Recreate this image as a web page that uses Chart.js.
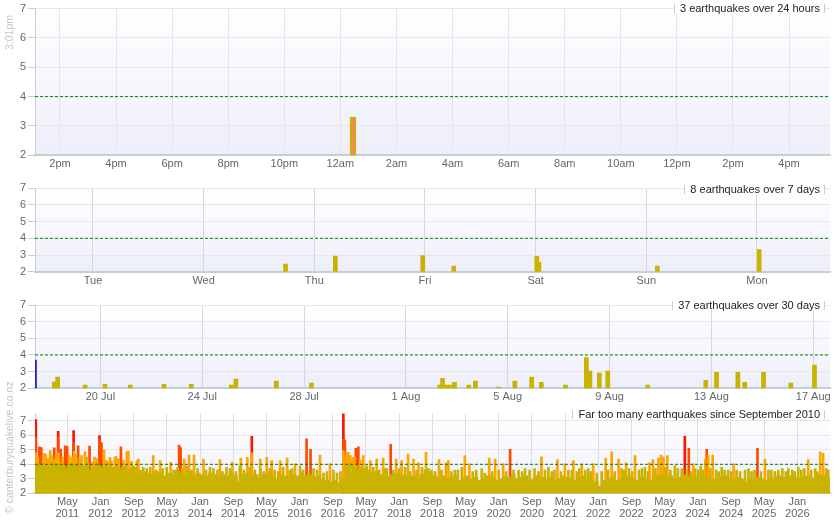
<!DOCTYPE html>
<html>
<head>
<meta charset="utf-8">
<script src="https://cdn.jsdelivr.net/npm/chart.js@4.4.0/dist/chart.umd.min.js"></script>
<style>
  body { margin: 0; background: #fff; font-family: "Liberation Sans", Arial, sans-serif; }
  #wrap { position: relative; width: 835px; height: 530px; overflow: hidden; }
  canvas { position: absolute; left: 0; }
  .title { position: absolute; right: 10px; height: 9px; line-height: 9px; padding: 0 4px 0 5px;
    background: #fff; color: #222; font-size: 11px; white-space: nowrap;
    border-left: 1px solid #ccc; border-right: 1px solid #ccc; }
  .side { position: absolute; left: 3px; color: #c4c4c4; font-size: 10.5px; line-height: 12px;
    white-space: nowrap; transform-origin: left top; transform: rotate(-90deg); }
</style>
</head>
<body>
<div id="wrap">
  <canvas id="day-chart" width="835" height="175" style="top:0"></canvas>
  <canvas id="week-chart" width="835" height="120" style="top:175px"></canvas>
  <canvas id="month-chart" width="835" height="110" style="top:295px"></canvas>
  <canvas id="all-chart" width="835" height="125" style="top:405px"></canvas>
  <div class="title" style="top:4px">3 earthquakes over 24 hours</div>
  <div class="title" style="top:185px">8 earthquakes over 7 days</div>
  <div class="title" style="top:301px">37 earthquakes over 30 days</div>
  <div class="title" style="top:410px">Far too many earthquakes since September 2010</div>
  <div class="side" style="top:50px">3:01pm</div>
  <div class="side" style="top:514px">© canterburyquakelive.co.nz</div>
</div>
<script>
// magnitude axis
var magTicks = [2, 3, 4, 5, 6, 7];
var alertMag = 4;

// last 24 hours (x = hours, 24 = midnight)
var dayHourTicks = [14, 16, 18, 20, 22, 24, 26, 28, 30, 32, 34, 36, 38, 40];
var dayHourLabels = ['2pm', '4pm', '6pm', '8pm', '10pm', '12am', '2am', '4am', '6am', '8am', '10am', '12pm', '2pm', '4pm'];
var dayQuakeHours = [24.45];
var dayQuakeMags = [3.3];

// last 7 days (x = day, 1 = Tue)
var weekDayTicks = [1, 2, 3, 4, 5, 6, 7];
var weekDayLabels = ['Tue', 'Wed', 'Thu', 'Fri', 'Sat', 'Sun', 'Mon'];
var weekQuakeDays = [2.74, 3.19, 3.98, 4.26, 5.01, 5.03, 6.10, 7.02];
var weekQuakeMags = [2.46, 2.94, 2.96, 2.33, 2.92, 2.58, 2.33, 3.33];

// last 30 days (x = day of July, August continues at 32)
var monthDayTicks = [20, 24, 28, 32, 36, 40, 44, 48];
var monthDayLabels = ['20 Jul', '24 Jul', '28 Jul', '1 Aug', '5 Aug', '9 Aug', '13 Aug', '17 Aug'];
var monthQuakeDays = [18.19, 18.32, 19.40, 20.18, 21.17, 22.50, 23.57, 25.14, 25.32, 26.91, 28.29, 33.33, 33.44, 33.62, 33.74,
  33.91, 34.47, 34.73, 35.64, 36.28, 36.94, 37.32, 38.27, 39.09, 39.23, 39.60, 39.93, 41.50, 43.78, 44.20, 45.04, 45.31, 46.05, 47.12, 48.05];
var monthQuakeMags = [2.38, 2.68, 2.20, 2.24, 2.20, 2.24, 2.24, 2.20, 2.56, 2.44, 2.32, 2.20, 2.60, 2.20, 2.20,
  2.36, 2.20, 2.44, 2.08, 2.44, 2.68, 2.36, 2.20, 3.84, 3.04, 2.92, 3.04, 2.20, 2.48, 2.96, 2.96, 2.36, 2.96, 2.32, 3.40];
var monthMarkerDays = [17.46];
var monthMarkerMags = [3.7];

// since September 2010 (x = decimal year)
var yearTickValues = [2011.333, 2012, 2012.667, 2013.333, 2014, 2014.667, 2015.333, 2016, 2016.667, 2017.333, 2018, 2018.667,
  2019.333, 2020, 2020.667, 2021.333, 2022, 2022.667, 2023.333, 2024, 2024.667, 2025.333, 2026];
var yearTickLabels = [['May', '2011'], ['Jan', '2012'], ['Sep', '2012'], ['May', '2013'], ['Jan', '2014'], ['Sep', '2014'],
  ['May', '2015'], ['Jan', '2016'], ['Sep', '2016'], ['May', '2017'], ['Jan', '2018'], ['Sep', '2018'], ['May', '2019'],
  ['Jan', '2020'], ['Sep', '2020'], ['May', '2021'], ['Jan', '2022'], ['Sep', '2022'], ['May', '2023'], ['Jan', '2024'],
  ['Sep', '2024'], ['May', '2025'], ['Jan', '2026']];
var bulkFirstMonth = 2010 + 8 / 12; // Sep 2010
var monthlyBulkMags = [
  3.9, 3.8, 3.7, 3.9,
  3.8, 4.0, 3.9, 3.7, 3.9, 4.0, 3.8, 3.7, 3.9, 3.6, 3.8, 3.9,
  3.7, 3.8, 3.5, 3.6, 3.7, 3.5, 3.4, 3.6, 3.5, 3.3, 3.5, 3.4,
  3.3, 3.5, 3.4, 3.2, 3.4, 3.3, 3.6, 3.4, 3.3, 3.5, 3.2, 3.4,
  3.3, 3.2, 3.4, 3.3, 3.1, 3.3, 3.2, 3.4, 3.2, 2.8, 3.3, 3.4,
  3.2, 3.3, 3.1, 3.3, 3.4, 3.2, 3.0, 3.3, 3.2, 3.1, 3.3, 3.2,
  3.4, 3.2, 3.3, 3.1, 3.2, 3.0, 2.9, 2.8, 2.9, 2.7, 3.0, 3.8,
  3.9, 3.7, 3.6, 3.5, 3.6, 3.4, 3.5, 3.3, 3.4, 3.2, 3.3, 3.4,
  3.2, 3.3, 3.1, 3.2, 3.0, 3.3, 3.6, 3.4, 3.2, 3.1, 3.2, 3.0,
  3.1, 3.2, 2.9, 3.1, 3.2, 3.0, 3.1, 2.9, 3.0, 3.2, 3.1, 2.9,
  3.0, 3.2, 3.1, 3.3, 3.0, 3.1, 3.2, 2.9, 3.0, 3.2, 3.1, 3.0,
  3.1, 2.9, 3.0, 3.2, 3.1, 3.0, 2.9, 3.1, 3.2, 3.0, 2.9, 2.8,
  2.5, 2.9, 3.0, 3.1, 2.9, 3.0, 3.2, 3.1, 3.0, 2.9, 3.1, 3.0,
  2.9, 3.1, 3.2, 3.3, 3.1, 3.2, 3.0, 3.1, 3.3, 3.2, 3.0, 3.1,
  3.0, 3.2, 3.1, 2.9, 3.0, 3.1, 3.2, 3.0, 2.9, 3.1, 3.0, 2.8,
  3.0, 2.9, 3.1, 3.0, 2.9, 3.1, 3.0, 3.2, 3.1, 3.0, 3.2, 3.1,
  3.0, 3.1, 3.2, 3.0, 3.1, 3.3, 3.2, 3.1];
var goldQuakes = [[2010.75, 3.9], [2010.80, 4.0], [2010.85, 4.1], [2010.95, 3.9], [2011.05, 4.2], [2011.10, 4.0], [2011.20, 4.1],
  [2011.28, 3.9], [2011.40, 4.1], [2011.50, 4.0], [2011.59, 4.1], [2011.66, 3.9], [2011.75, 4.1], [2011.90, 4.0], [2012.05, 3.9],
  [2012.12, 4.0], [2012.19, 4.0], [2012.26, 3.8], [2012.34, 3.9], [2012.44, 3.8], [2012.50, 3.9], [2012.60, 3.7], [2012.66, 3.9],
  [2012.70, 3.8], [2012.80, 3.6], [2012.86, 3.8], [2012.93, 3.7], [2013.00, 3.8], [2013.12, 3.6], [2013.25, 3.7], [2013.33, 3.8],
  [2013.47, 3.6], [2013.55, 3.8], [2013.64, 3.7], [2013.73, 3.9], [2013.83, 3.6], [2013.95, 3.7], [2014.12, 3.6], [2014.20, 3.8],
  [2014.27, 3.7], [2014.35, 3.6], [2014.45, 3.5], [2014.53, 3.8], [2014.60, 3.7], [2014.72, 3.5], [2014.80, 3.9], [2014.88, 3.6],
  [2015.00, 3.8], [2015.10, 3.6], [2015.21, 3.7], [2015.28, 3.5], [2015.40, 3.7], [2015.50, 3.6], [2015.57, 3.5], [2015.67, 3.8],
  [2015.80, 3.6], [2015.85, 3.7], [2016.01, 3.9], [2016.07, 3.6], [2016.18, 3.5], [2016.28, 3.7], [2016.35, 3.6], [2016.48, 3.4],
  [2016.55, 3.5], [2016.68, 3.6], [2016.75, 3.4], [2016.82, 3.5], [2017.00, 4.0], [2017.16, 3.9], [2017.25, 3.8], [2017.32, 3.7],
  [2017.35, 3.9], [2017.48, 3.8], [2017.60, 3.6], [2017.72, 3.7], [2017.75, 3.7], [2017.88, 3.6], [2018.00, 3.7], [2018.12, 3.8],
  [2018.22, 3.5], [2018.35, 3.6], [2018.46, 3.8], [2018.59, 3.7], [2018.65, 3.6], [2018.72, 3.5], [2018.85, 3.6], [2019.05, 3.5],
  [2019.12, 3.6], [2019.18, 3.6], [2019.26, 3.8], [2019.48, 3.5], [2019.55, 3.6], [2019.66, 3.7], [2019.72, 3.4], [2019.87, 3.5],
  [2020.00, 3.6], [2020.15, 3.5], [2020.30, 3.6], [2020.40, 3.6], [2020.47, 3.5], [2020.53, 3.7], [2020.62, 3.6], [2020.72, 3.7],
  [2020.80, 3.5], [2020.93, 3.6], [2021.00, 3.8], [2021.07, 3.5], [2021.12, 3.6], [2021.25, 3.5], [2021.40, 3.6], [2021.47, 3.6],
  [2021.57, 3.5], [2021.62, 3.7], [2021.74, 3.6], [2021.80, 3.7], [2021.85, 3.5], [2021.97, 3.4], [2022.07, 3.5], [2022.20, 3.6],
  [2022.33, 3.5], [2022.47, 3.7], [2022.52, 3.6], [2022.62, 3.7], [2022.68, 3.5], [2022.82, 3.6], [2022.88, 3.7], [2022.94, 3.8],
  [2023.00, 3.5], [2023.15, 3.7], [2023.35, 3.8], [2023.45, 3.6], [2023.54, 3.9], [2023.60, 3.7], [2023.68, 3.7], [2023.78, 3.6],
  [2023.86, 3.5], [2023.95, 3.7], [2024.01, 3.6], [2024.06, 3.9], [2024.10, 3.6], [2024.25, 3.7], [2024.37, 3.6], [2024.42, 3.5],
  [2024.48, 3.8], [2024.54, 3.6], [2024.61, 3.6], [2024.67, 3.5], [2024.78, 3.6], [2024.85, 3.5], [2024.95, 3.6], [2025.02, 3.7],
  [2025.08, 3.5], [2025.14, 3.6], [2025.27, 3.5], [2025.42, 3.6], [2025.48, 3.6], [2025.55, 3.5], [2025.62, 3.6], [2025.70, 3.7],
  [2025.77, 3.5], [2025.82, 3.7], [2025.90, 3.6], [2025.95, 3.5], [2026.02, 3.8], [2026.08, 3.6], [2026.14, 3.7], [2026.28, 3.6],
  [2026.36, 3.7], [2026.40, 3.5], [2026.58, 3.7], [2026.62, 3.6]];
var orangeQuakes = [[2010.70, 4.8], [2010.74, 4.5], [2010.86, 4.75], [2010.89, 4.6], [2010.90, 4.7], [2010.94, 4.4], [2010.99, 4.95],
  [2011.03, 4.6], [2011.09, 4.4], [2011.12, 4.73], [2011.16, 4.8], [2011.24, 4.5], [2011.37, 4.6], [2011.42, 4.5], [2011.47, 4.9],
  [2011.51, 4.7], [2011.58, 4.4], [2011.62, 4.6], [2011.69, 4.88], [2011.73, 4.5], [2011.84, 4.16], [2011.88, 4.5], [2011.93, 4.4],
  [2012.07, 5.0], [2012.10, 4.3], [2012.14, 4.2], [2012.19, 4.48], [2012.22, 4.25], [2012.29, 4.48], [2012.31, 4.55], [2012.36, 4.4],
  [2012.46, 4.3], [2012.53, 4.88], [2012.56, 4.9], [2012.62, 4.2], [2012.73, 4.25], [2012.76, 4.36], [2013.06, 4.6], [2013.20, 4.25],
  [2013.41, 4.14], [2013.68, 4.36], [2013.78, 4.64], [2013.88, 4.64], [2014.07, 4.36], [2014.40, 4.32], [2014.65, 4.14],
  [2014.82, 4.43], [2014.95, 4.48], [2015.04, 4.8], [2015.21, 4.36], [2015.34, 4.48], [2015.44, 4.25], [2015.61, 4.25],
  [2015.75, 4.43], [2015.91, 4.03], [2016.41, 4.64], [2016.61, 4.03], [2016.88, 4.96], [2016.93, 4.6], [2016.95, 4.8],
  [2016.98, 4.82], [2017.02, 4.6], [2017.05, 4.4], [2017.08, 4.48], [2017.11, 4.5], [2017.22, 4.3], [2017.28, 4.6], [2017.42, 4.25],
  [2017.55, 4.36], [2017.68, 4.43], [2017.94, 4.36], [2018.05, 4.25], [2018.18, 4.7], [2018.29, 4.36], [2018.39, 4.1],
  [2018.54, 4.82], [2018.80, 4.32], [2018.94, 4.1], [2018.99, 4.25], [2019.32, 4.6], [2019.41, 4.03], [2019.81, 4.43],
  [2019.93, 4.36], [2020.09, 4.03], [2020.86, 4.52], [2021.18, 4.32], [2021.33, 4.03], [2021.50, 4.25], [2021.67, 4.03],
  [2021.90, 4.03], [2022.15, 4.43], [2022.27, 4.86], [2022.41, 4.36], [2022.56, 4.1], [2022.74, 4.6], [2023.03, 4.1],
  [2023.10, 4.32], [2023.21, 4.43], [2023.26, 4.64], [2023.31, 4.52], [2023.39, 4.6], [2023.91, 4.03], [2024.15, 4.36],
  [2024.21, 4.64], [2024.30, 4.64], [2024.72, 4.03], [2025.35, 4.36], [2026.22, 4.32], [2026.46, 4.86], [2026.52, 4.75]];
var orangeRedQuakes = [[2010.70, 5.85], [2010.77, 5.2], [2010.81, 5.15], [2011.07, 5.13], [2011.15, 5.85], [2011.20, 5.06],
  [2011.29, 5.28], [2011.33, 5.22], [2011.46, 5.51], [2011.55, 5.28], [2011.78, 5.26], [2011.98, 5.78], [2012.02, 5.5],
  [2012.41, 5.2], [2013.58, 5.33], [2013.61, 5.15], [2016.14, 5.76], [2016.22, 5.04], [2016.88, 5.72], [2016.91, 5.67],
  [2017.13, 5.1], [2017.18, 5.2], [2017.83, 5.38], [2020.23, 5.04], [2023.82, 5.11], [2024.18, 5.04], [2025.20, 5.1]];
var redQuakes = [[2010.70, 7.09], [2011.15, 6.28], [2011.46, 6.33], [2011.98, 5.99], [2015.04, 5.94], [2016.88, 7.8], [2023.74, 5.94]];

var gold = '#c9b200';

Chart.defaults.font.family = '"Liberation Sans", Arial, sans-serif';
Chart.defaults.font.size = 11;
Chart.defaults.color = '#666';

//Fill the plot area with the pale gradient
var plotBackground = {
  id: 'plotBackground',
  beforeDraw: function(chart) {
    var a = chart.chartArea;
    var ctx = chart.ctx;
    var g = ctx.createLinearGradient(0, a.top, 0, a.bottom);
    g.addColorStop(0, '#ffffff');
    g.addColorStop(1, '#eeeefa');
    ctx.save();
    ctx.fillStyle = g;
    ctx.fillRect(a.left, a.top, a.right - a.left, a.bottom - a.top);
    ctx.restore();
  }
};

var zip = function(xs, ys) {
  return xs.map(function(x, i) { return { x: x, y: ys[i] }; });
};
var pairs = function(list) {
  return list.map(function(p) { return { x: p[0], y: p[1] }; });
};

var barSet = function(points, color, width, order) {
  return { type: 'bar', data: points, backgroundColor: color, barThickness: width,
    grouped: false, order: order, clip: 0, borderWidth: 0 };
};

var alertLine = function(xMin, xMax) {
  return { type: 'line', data: [{ x: xMin, y: alertMag }, { x: xMax, y: alertMag }], borderColor: '#0a7d0a',
    borderWidth: 1, borderDash: [3, 2], pointRadius: 0, order: -1 };
};

//Build one panel
var createPanel = function(id, p) {
  var ctx = document.getElementById(id).getContext('2d');
  p.datasets.push(alertLine(p.xMin, p.xMax));
  return new Chart(ctx, {
    type: 'bar',
    data: { datasets: p.datasets },
    plugins: [plotBackground],
    options: {
      responsive: false,
      animation: false,
      layout: { padding: { top: p.padTop, right: 5, left: 0, bottom: 0 } },
      plugins: { legend: { display: false }, tooltip: { enabled: false } },
      scales: {
        x: {
          type: 'linear', min: p.xMin, max: p.xMax, offset: false,
          afterBuildTicks: function(s) { s.ticks = p.ticks.map(function(v) { return { value: v }; }); },
          afterFit: function(s) { s.height = p.axisHeight; },
          ticks: { autoSkip: false, maxRotation: 0, minRotation: 0, padding: 3, color: '#666',
            font: { size: 11, lineHeight: 1.05 },
            callback: function(v, i) { return p.labels[i]; } },
          grid: { color: p.vGrid, drawTicks: false, offset: false },
          border: { color: '#c3d0d4', width: 2 }
        },
        y: {
          min: 2, max: p.yMax,
          afterBuildTicks: function(s) { s.ticks = magTicks.map(function(v) { return { value: v }; }); },
          afterFit: function(s) { s.width = 35; },
          ticks: { autoSkip: false, padding: 2, color: '#666', font: { size: 11 } },
          grid: { color: '#e6e6ee', tickColor: '#c3d0d4', tickLength: 7 },
          border: { color: '#c3d0d4', width: 1 }
        }
      }
    }
  });
};

createPanel('day-chart', {
  xMin: 13.11, xMax: 41.46, yMax: 7, padTop: 8.3, axisHeight: 19.7,
  ticks: dayHourTicks, labels: dayHourLabels, vGrid: '#e4e4ec',
  datasets: [{ type: 'bar', data: zip(dayQuakeHours, dayQuakeMags), backgroundColor: '#f08a5a',
    borderColor: gold, borderWidth: 2, barThickness: 6, grouped: false, clip: 0 }]
});

createPanel('week-chart', {
  xMin: 0.476, xMax: 7.66, yMax: 7, padTop: 13.3, axisHeight: 23.3,
  ticks: weekDayTicks, labels: weekDayLabels, vGrid: '#d6d6de',
  datasets: [barSet(zip(weekQuakeDays, weekQuakeMags), gold, 4, 0)]
});

createPanel('month-chart', {
  xMin: 17.43, xMax: 48.66, yMax: 7, padTop: 10, axisHeight: 16.7,
  ticks: monthDayTicks, labels: monthDayLabels, vGrid: '#d6d6de',
  datasets: [barSet(zip(monthQuakeDays, monthQuakeMags), gold, 4, 0),
    barSet(zip(monthMarkerDays, monthMarkerMags), '#2424c8', 1.5, 0)]
});

var bulkPoints = monthlyBulkMags.map(function(m, i) {
  return { x: bulkFirstMonth + (i + 0.5) / 12, y: m };
});

createPanel('all-chart', {
  xMin: 2010.684, xMax: 2026.657, yMax: 7.5, padTop: 7, axisHeight: 36.7,
  ticks: yearTickValues, labels: yearTickLabels, vGrid: '#dcdce4',
  datasets: [
    barSet(bulkPoints, gold, 4.3, 0),
    barSet(pairs(goldQuakes), gold, 2, 0),
    barSet(pairs(orangeQuakes), '#ffa500', 2, 1),
    barSet(pairs(orangeRedQuakes), '#ff4a00', 2, 2),
    barSet(pairs(redQuakes), '#ff1400', 2, 3)
  ]
});
</script>
</body>
</html>
